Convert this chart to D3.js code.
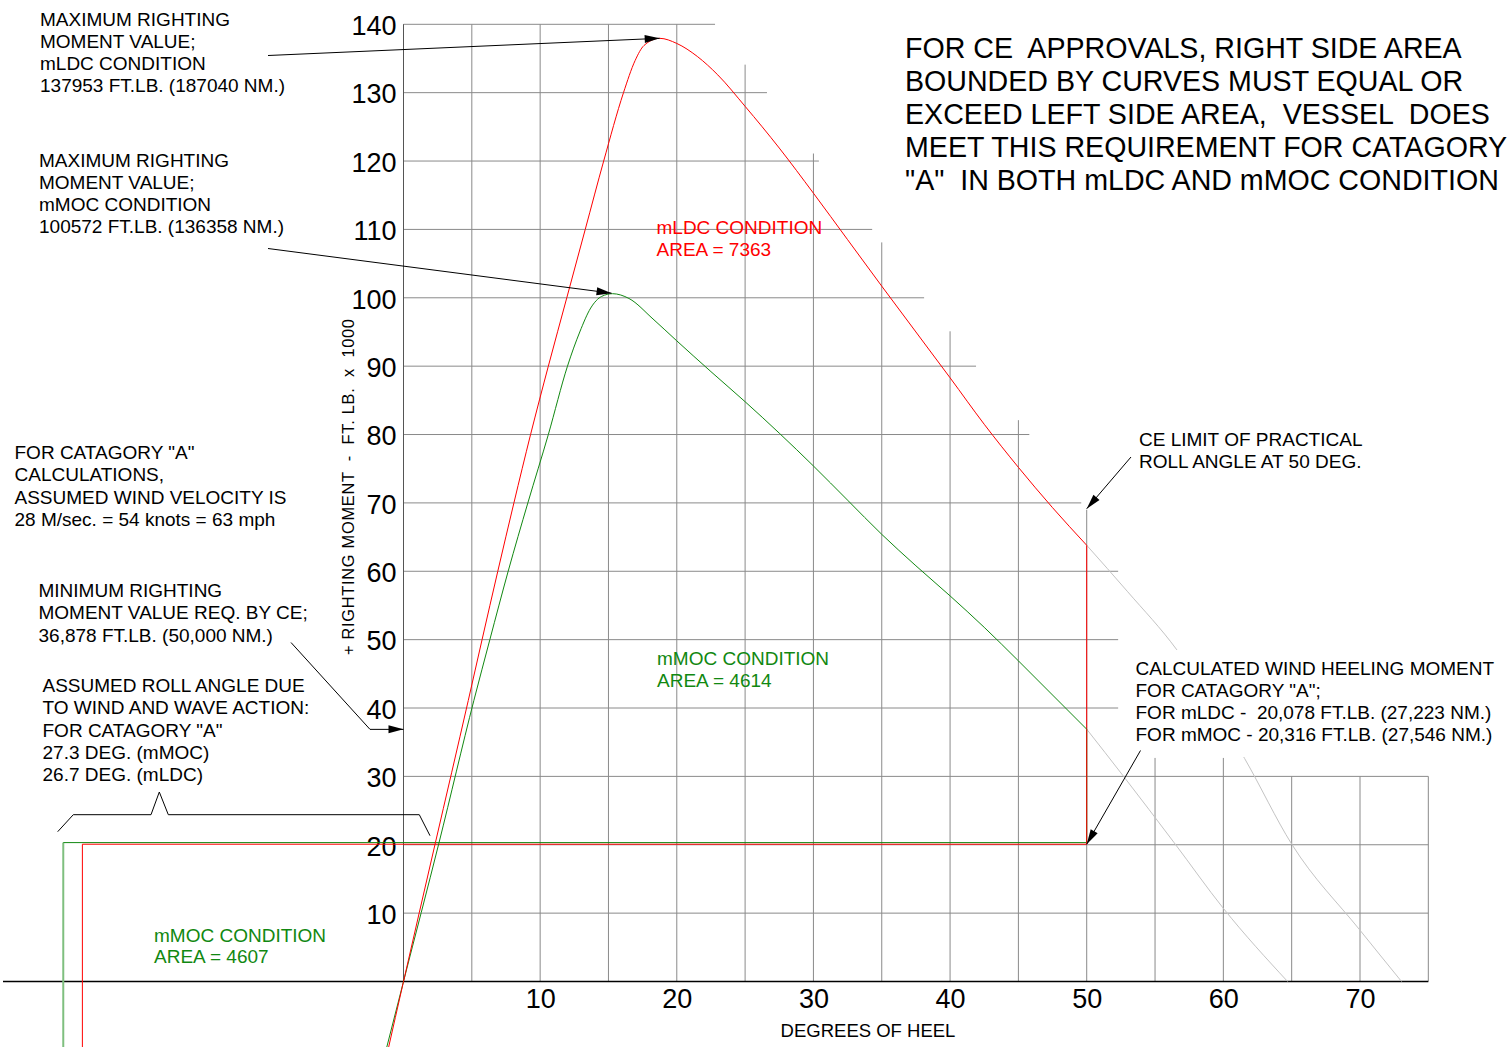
<!DOCTYPE html>
<html>
<head>
<meta charset="utf-8">
<script src="https://cdn.jsdelivr.net/npm/d3@7"></script>
<style>
  body { margin: 0; background: #fff; }
  svg text { font-family: "Liberation Sans", Arial, sans-serif; white-space: pre; }
</style>
</head>
<body>
<svg id="chart" width="1510" height="1047"></svg>
<script>
// righting moment curves, [degrees of heel, ft.lb x 1000]
const mLDC = [[-1.2,-10.6],[0,0],[2.3,20],[4.74,41.1],[5.75,50],[6.9,60],[8.08,70],[9.3,80],[10.6,90],
  [11.95,100],[13.3,110],[14.65,120],[16.1,130],[16.95,134.7],[17.6,136.9],[18.75,137.95],[20,137.2],
  [21.5,135.3],[23,132.6],[25,128.0],[27.5,121.9],[30,115.3],[32.5,108.5],[35,101.7],[37.5,95],[40,88.3],
  [42.5,81.5],[45,75.2],[47.5,69.3],[50,63.8]];
const mMOC = [[-1.3,-10.2],[0,0],[2.6,20.3],[5.15,41.1],[6.32,50],[7.66,60],[9.1,70],[10.6,80],[12.0,90],
  [12.9,95],[13.7,98.5],[14.5,100.2],[15.3,100.6],[16.5,99.9],[18.26,96.9],[20,93.7],[22.5,89.2],
  [25,84.8],[27.5,80.2],[30,75.4],[32.5,70.4],[35,65.4],[37.5,60.8],[40,56.4],[42.5,51.8],[45,46.9],
  [47.5,41.9],[50,36.9]];
// curves past the 50 deg limit (drawn grey)
const mLDCbeyond = [[50,63.8],[53,57.0],[56.6,48.5],[61.56,32.6],[65,20.1],[70,7.5],[73.04,0]];
const mMOCbeyond = [[50,36.9],[52.7,30],[56.4,20.3],[60,10.7],[64.7,0]];

// wind heeling moment and roll angle bounds
const heelMoment = { mLDC: 20.078, mMOC: 20.316 };
const rollStart = { mLDC: -23.5, mMOC: -24.9 };
const limitDeg = 50;
const minRM = 36.878;
const peakLDC = [18.75, 137.95];
const peakMOC = [15.3, 100.6];

// tick labels and stepped grid extents
const yTicks = [10,20,30,40,50,60,70,80,90,100,110,120,130,140];
const xTicks = [10,20,30,40,50,60,70];
const hGridVals = [140,130,120,110,100,90,80,70,60,50,40,30,20,10];
const hGridEnd  = [22.8,26.6,30.4,34.3,38.1,41.9,45.8,49.6,52.3,52.3,52.3,75,75,75];
const vGridDeg  = [0,5,10,15,20,25,30,35,40,45,50,55,60,65,70,75];
const vGridTop  = [140,140,140,140,140,134.1,121.1,108.1,95.1,82.1,69,32.7,32.7,30,30,30];

const svg = d3.select("#chart");
const x = d3.scaleLinear().domain([0, 70]).range([403.5, 1360]);
const y = d3.scaleLinear().domain([0, 140]).range([981.5, 24.3]);
const RED = "#ff0000", GREEN = "#118811", GRID = "#8a8a8a";

// grid
svg.append("g").selectAll("line").data(hGridVals).join("line")
  .attr("x1", x(0)).attr("x2", (d, i) => x(hGridEnd[i]))
  .attr("y1", d => y(d)).attr("y2", d => y(d))
  .attr("stroke", GRID).attr("stroke-width", 1);
svg.append("g").selectAll("line").data(vGridDeg).join("line")
  .attr("x1", d => x(d)).attr("x2", d => x(d))
  .attr("y1", (d, i) => y(vGridTop[i])).attr("y2", y(0))
  .attr("stroke", GRID).attr("stroke-width", 1);

// axes
svg.append("line").attr("x1", x(0)).attr("x2", x(0)).attr("y1", y(140)).attr("y2", y(0))
  .attr("stroke", "#555");
svg.append("line").attr("x1", 3).attr("x2", x(75)).attr("y1", y(0)).attr("y2", y(0))
  .attr("stroke", "#000").attr("stroke-width", 1.4);

const yAxis = svg.append("g").attr("transform", `translate(${x(0)},0)`)
  .call(d3.axisLeft(y).tickValues(yTicks).tickSize(0).tickPadding(7));
const xAxis = svg.append("g").attr("transform", `translate(0,${y(0)})`)
  .call(d3.axisBottom(x).tickValues(xTicks).tickSize(0).tickPadding(7.5));
[yAxis, xAxis].forEach(a => {
  a.select(".domain").remove();
  a.selectAll("text").attr("font-size", 27).attr("fill", "#000")
    .attr("font-family", "Liberation Sans, Arial, sans-serif");
});
yAxis.selectAll("text").attr("dy", "0.38em");

// curves
const line = d3.line().x(d => x(d[0])).y(d => y(d[1])).curve(d3.curveMonotoneX);
svg.append("path").datum(mLDCbeyond).attr("d", line).attr("fill", "none").attr("stroke", "#c4c4c4");
svg.append("path").datum(mMOCbeyond).attr("d", line).attr("fill", "none").attr("stroke", "#c4c4c4");

// heeling moment / roll angle boxes
function heelBox(key, curve, color, leftColor, leftWidth) {
  const h = heelMoment[key], top = curve[curve.length - 1][1];
  svg.append("line").attr("x1", x(rollStart[key])).attr("x2", x(rollStart[key]))
    .attr("y1", y(h)).attr("y2", 1047).attr("stroke", leftColor).attr("stroke-width", leftWidth);
  svg.append("path")
    .attr("d", `M${x(rollStart[key])},${y(h)}H${x(limitDeg)}V${y(top)}`)
    .attr("fill", "none").attr("stroke", color);
}
heelBox("mMOC", mMOC, GREEN, "#7fbf7f", 2);
heelBox("mLDC", mLDC, RED, RED, 1);

svg.append("path").datum(mMOC).attr("d", line).attr("fill", "none").attr("stroke", GREEN);
svg.append("path").datum(mLDC).attr("d", line).attr("fill", "none").attr("stroke", RED);

// mask behind right-hand note
svg.append("rect").attr("x", 1128).attr("y", 650).attr("width", 382).attr("height", 107).attr("fill", "#fff");

// text blocks
function note(lines, tx, ty, size, lh, color) {
  const t = svg.append("text").attr("x", tx).attr("y", ty)
    .attr("font-size", size).attr("fill", color || "#000");
  lines.forEach((s, i) => t.append("tspan").attr("x", tx).attr("dy", i ? lh : 0).text(s));
}
note(["FOR CE  APPROVALS, RIGHT SIDE AREA", "BOUNDED BY CURVES MUST EQUAL OR",
  "EXCEED LEFT SIDE AREA,  VESSEL  DOES", "MEET THIS REQUIREMENT FOR CATAGORY",
  "\"A\"  IN BOTH mLDC AND mMOC CONDITION"], 905, 58, 28.6, 33);
note(["MAXIMUM RIGHTING", "MOMENT VALUE;", "mLDC CONDITION", "137953 FT.LB. (187040 NM.)"], 40, 25.5, 19, 22);
note(["MAXIMUM RIGHTING", "MOMENT VALUE;", "mMOC CONDITION", "100572 FT.LB. (136358 NM.)"], 39, 167, 19, 22);
note(["FOR CATAGORY \"A\"", "CALCULATIONS,", "ASSUMED WIND VELOCITY IS", "28 M/sec. = 54 knots = 63 mph"], 14.5, 459, 19, 22.3);
note(["MINIMUM RIGHTING", "MOMENT VALUE REQ. BY CE;", "36,878 FT.LB. (50,000 NM.)"], 38.5, 597, 19, 22.3);
note(["ASSUMED ROLL ANGLE DUE", "TO WIND AND WAVE ACTION:", "FOR CATAGORY \"A\"", "27.3 DEG. (mMOC)", "26.7 DEG. (mLDC)"], 42.5, 692, 19, 22.3);
note(["mLDC CONDITION", "AREA = 7363"], 656.5, 234, 19, 22, RED);
note(["mMOC CONDITION", "AREA = 4614"], 657, 665, 19, 22, GREEN);
note(["mMOC CONDITION", "AREA = 4607"], 154, 941.5, 19, 21.5, GREEN);
note(["CE LIMIT OF PRACTICAL", "ROLL ANGLE AT 50 DEG."], 1139, 446, 19, 22.3);
note(["CALCULATED WIND HEELING MOMENT", "FOR CATAGORY \"A\";", "FOR mLDC -  20,078 FT.LB. (27,223 NM.)",
  "FOR mMOC - 20,316 FT.LB. (27,546 NM.)"], 1135.5, 675, 19, 22);

svg.append("text").attr("x", 868).attr("y", 1036.5).attr("text-anchor", "middle")
  .attr("font-size", 18.5).text("DEGREES OF HEEL");
svg.append("text").attr("transform", "translate(354,487) rotate(-90)").attr("text-anchor", "middle")
  .attr("font-size", 16.4).attr("textLength", 336).attr("lengthAdjust", "spacing")
  .text("+ RIGHTING MOMENT  -  FT. LB.  x  1000");

// leader lines with arrowheads
function arrow(pts) {
  svg.append("polyline").attr("points", pts.map(p => p.join(",")).join(" "))
    .attr("fill", "none").attr("stroke", "#000").attr("stroke-width", 1);
  const [a, b] = pts.slice(-2);
  const ang = Math.atan2(b[1] - a[1], b[0] - a[0]), L = 15, W = 4;
  const bx = b[0] - L * Math.cos(ang), by = b[1] - L * Math.sin(ang);
  const px = -Math.sin(ang) * W, py = Math.cos(ang) * W;
  svg.append("polygon").attr("points", `${b[0]},${b[1]} ${bx + px},${by + py} ${bx - px},${by - py}`)
    .attr("fill", "#000");
}
arrow([[268, 55.5], [x(peakLDC[0]), y(peakLDC[1])]]);
arrow([[268, 248.5], [x(peakMOC[0]) - 1, y(peakMOC[1]) - 0.5]]);
arrow([[291, 642.5], [370, y(minRM)], [x(0), y(minRM)]]);
arrow([[1131, 457], [x(limitDeg), y(69) - 1]]);
arrow([[1140.5, 750.5], [x(limitDeg), y(heelMoment.mLDC)]]);

// bracket over the roll angle span
svg.append("polyline")
  .attr("points", "57.7,831.7 73.3,814.7 151,814.7 159.3,792 168.3,814.7 419.3,814.7 430,835.7")
  .attr("fill", "none").attr("stroke", "#000");
</script>
</body>
</html>
